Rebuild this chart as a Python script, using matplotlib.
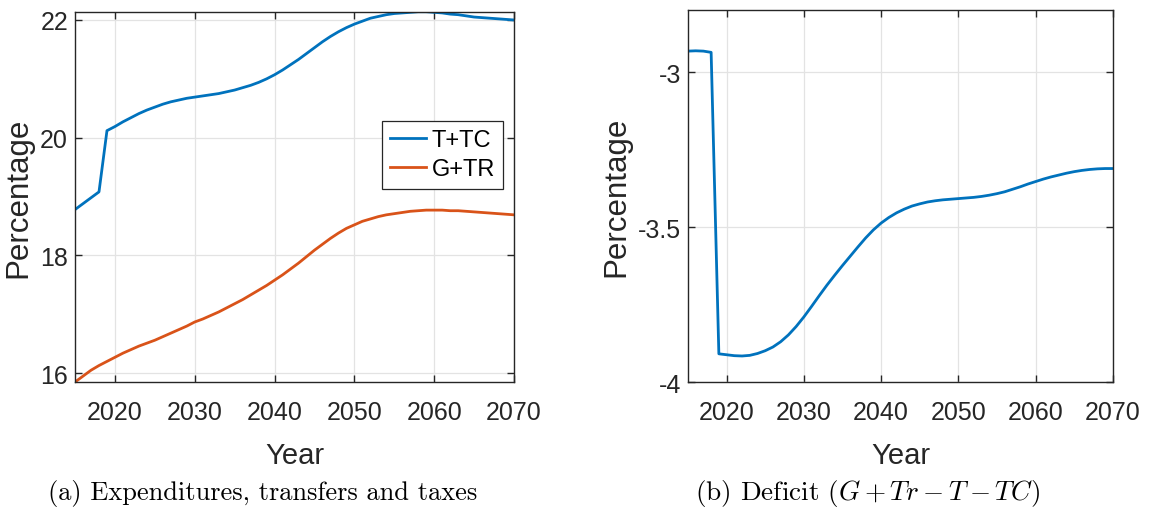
import numpy as np
import matplotlib
matplotlib.use("Agg")
import matplotlib.pyplot as plt
from matplotlib.ticker import FormatStrFormatter

plt.rcParams["font.family"] = ["Liberation Sans", "DejaVu Sans"]
plt.rcParams["axes.unicode_minus"] = False
plt.rcParams["mathtext.fontset"] = "cm"

# ── Data (one value per year) ─────────────────────────────────────────────────
years = list(range(2015, 2071))

t_tc = [18.78, 18.88, 18.98, 19.08, 20.12, 20.19, 20.27, 20.34, 20.41, 20.47,
        20.52, 20.57, 20.61, 20.64, 20.67, 20.69, 20.71, 20.73, 20.75, 20.78,
        20.81, 20.85, 20.89, 20.94, 21.00, 21.07, 21.15, 21.24, 21.33, 21.43,
        21.53, 21.63, 21.72, 21.80, 21.87, 21.93, 21.98, 22.03, 22.06, 22.09,
        22.11, 22.12, 22.13, 22.14, 22.14, 22.13, 22.12, 22.10, 22.09, 22.07,
        22.05, 22.04, 22.03, 22.02, 22.01, 22.00]

g_tr = [15.85, 15.95, 16.05, 16.13, 16.20, 16.27, 16.34, 16.40, 16.46, 16.51,
        16.56, 16.62, 16.68, 16.74, 16.80, 16.87, 16.92, 16.98, 17.04, 17.11,
        17.18, 17.25, 17.33, 17.41, 17.49, 17.58, 17.67, 17.77, 17.87, 17.98,
        18.09, 18.19, 18.29, 18.38, 18.46, 18.52, 18.58, 18.62, 18.66, 18.69,
        18.71, 18.73, 18.75, 18.76, 18.77, 18.77, 18.77, 18.76, 18.76, 18.75,
        18.74, 18.73, 18.72, 18.71, 18.70, 18.69]

deficit = [-2.932, -2.931, -2.932, -2.936, -3.909, -3.912, -3.915, -3.916, -3.914, -3.908,
           -3.899, -3.887, -3.870, -3.848, -3.821, -3.790, -3.756, -3.721, -3.687, -3.655,
           -3.624, -3.594, -3.564, -3.535, -3.509, -3.487, -3.469, -3.454, -3.442, -3.432,
           -3.425, -3.419, -3.415, -3.412, -3.410, -3.408, -3.406, -3.404, -3.401, -3.397,
           -3.392, -3.386, -3.378, -3.370, -3.361, -3.353, -3.345, -3.338, -3.332, -3.326,
           -3.321, -3.317, -3.314, -3.312, -3.311, -3.311]

x_ticks = [2020, 2030, 2040, 2050, 2060, 2070]

BLUE = "#0072BD"
ORANGE = "#D95319"
FRAME = "#262626"


def style_axes(ax):
    ax.grid(True, color="#e3e3e3", linewidth=0.9)
    ax.set_axisbelow(True)
    for s in ax.spines.values():
        s.set_color(FRAME)
        s.set_linewidth(1.0)
    ax.tick_params(direction="in", top=True, right=True, length=5, width=1.0,
                   color=FRAME, labelsize=18, labelcolor="#262626")
    ax.tick_params(axis="x", pad=13)
    ax.tick_params(axis="y", pad=5)
    ax.set_xticks(x_ticks)
    ax.set_xlim(2015, 2070)
    ax.set_xlabel("Year", fontsize=21, labelpad=12, color="#262626")
    ax.set_ylabel("Percentage", fontsize=22.5, labelpad=5, color="#262626")


fig = plt.figure(figsize=(11.51, 5.10), dpi=100)
ax1 = fig.add_axes([0.0652, 0.249, 0.3814, 0.726])
ax2 = fig.add_axes([0.5977, 0.249, 0.3692, 0.729])

# ── (a) ───────────────────────────────────────────────────────────────────────
ax1.plot(years, t_tc, color=BLUE, linewidth=2.0, label="T+TC")
ax1.plot(years, g_tr, color=ORANGE, linewidth=2.0, label="G+TR")
style_axes(ax1)
ax1.set_ylim(15.85, 22.14)
ax1.set_yticks([16, 18, 20, 22])
leg = ax1.legend(loc="upper right", bbox_to_anchor=(0.975, 0.705), fontsize=17,
                 fancybox=False, edgecolor=FRAME, framealpha=1, borderaxespad=0,
                 handlelength=1.5, handletextpad=0.25, borderpad=0.35, labelspacing=0.3)
leg.get_frame().set_linewidth(0.9)

# ── (b) ───────────────────────────────────────────────────────────────────────
ax2.plot(years, deficit, color=BLUE, linewidth=2.0)
style_axes(ax2)
ax2.set_ylim(-4.0, -2.80)
ax2.set_yticks([-4, -3.5, -3])
ax2.yaxis.set_major_formatter(FormatStrFormatter("%g"))

# ── captions ──────────────────────────────────────────────────────────────────
fig.text(0.2285, 0.033, "(a) Expenditures, transfers and taxes", ha="center", va="center",
         family="cmr10", fontsize=19)
fig.text(0.754, 0.033, r"(b) Deficit $(G+Tr-T-TC)$", ha="center", va="center",
         family="cmr10", fontsize=19.5)

fig.savefig("out.png", dpi=100)
